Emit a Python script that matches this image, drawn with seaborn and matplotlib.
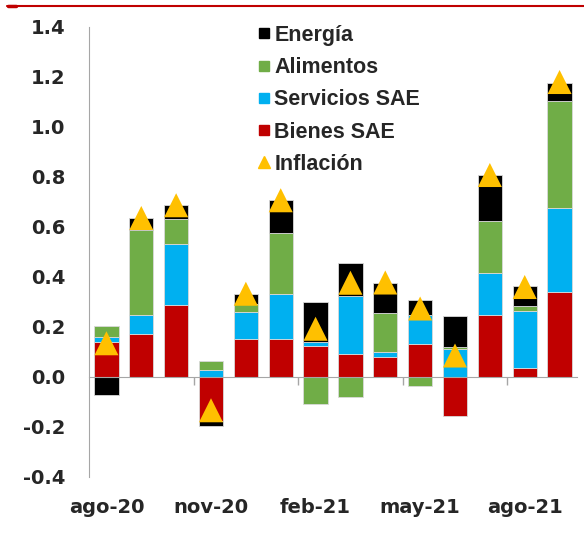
import numpy as np
import pandas as pd
import matplotlib.pyplot as plt
import seaborn as sns
from matplotlib.lines import Line2D

# Contribuciones mensuales a la inflación (puntos porcentuales)
meses = ["ago-20", "sep-20", "oct-20", "nov-20", "dic-20", "ene-21", "feb-21",
         "mar-21", "abr-21", "may-21", "jun-21", "jul-21", "ago-21", "sep-21"]
bienes = [0.14, 0.172, 0.288, -0.177, 0.151, 0.151, 0.124,
          0.093, 0.08, 0.133, -0.157, 0.25, 0.036, 0.34]
servicios = [0.02, 0.078, 0.245, 0.028, 0.111, 0.18, 0.016,
             0.231, 0.02, 0.117, 0.111, 0.166, 0.23, 0.337]
alimentos = [0.045, 0.34, 0.099, 0.036, 0.029, 0.245, -0.107,
             -0.08, 0.158, -0.036, 0.009, 0.208, 0.017, 0.426]
energia = [-0.07, 0.046, 0.055, -0.019, 0.042, 0.131, 0.16,
           0.133, 0.12, 0.06, 0.123, 0.184, 0.08, 0.074]
inflacion = [0.135, 0.636, 0.687, -0.133, 0.333, 0.707, 0.193,
             0.377, 0.378, 0.274, 0.086, 0.808, 0.36, 1.18]

series = ["Energía", "Alimentos", "Servicios SAE", "Bienes SAE"]
colores = {"Energía": "#000000", "Alimentos": "#70AD47",
           "Servicios SAE": "#00B0F0", "Bienes SAE": "#C00000"}
valores = {"Energía": energia, "Alimentos": alimentos,
           "Servicios SAE": servicios, "Bienes SAE": bienes}

sns.set_style("white")
plt.rcParams['font.family'] = ['Liberation Sans', 'DejaVu Sans']
plt.rcParams['axes.unicode_minus'] = False

fig = plt.figure(figsize=(5.84, 5.38), dpi=100)
ax = fig.add_axes([89/584, 1 - 477/538, (577 - 89)/584, 450/538])

x = np.arange(len(meses))
pos_base = np.zeros(len(meses))
neg_base = np.zeros(len(meses))
# Excel apila positivos hacia arriba y negativos hacia abajo
for nombre in ["Bienes SAE", "Servicios SAE", "Alimentos", "Energía"]:
    v = np.array(valores[nombre])
    base = np.where(v >= 0, pos_base, neg_base)
    ax.bar(x, v, width=0.7, bottom=base, color=colores[nombre],
           edgecolor="#d9d9d9", linewidth=0.6, zorder=2)
    pos_base += np.clip(v, 0, None)
    neg_base += np.clip(v, None, 0)

df = pd.DataFrame({"x": x, "inflacion": inflacion})
sns.scatterplot(data=df, x="x", y="inflacion", marker="^", s=300,
                color="#FFC000", edgecolor="none", zorder=4, ax=ax, legend=False)

ax.set_xlim(-0.5, len(meses) - 0.5)
ax.set_ylim(-0.4, 1.4)
yticks = np.round(np.arange(-0.4, 1.41, 0.2), 1) + 0.0
ax.set_yticks(yticks)
ax.set_yticklabels([f"{t:.1f}" for t in yticks], family="DejaVu Sans",
                   fontweight="bold", fontsize=14)
ax.set_xticks(x[::3])
ax.set_xticklabels(meses[::3], family="DejaVu Sans", fontweight="bold", fontsize=14)
ax.set_xlabel("")
ax.set_ylabel("")

for s in ["top", "right", "bottom"]:
    ax.spines[s].set_visible(False)
ax.spines["left"].set_color("#a6a6a6")
ax.tick_params(axis="y", direction="out", length=6, width=1, color="#a6a6a6", pad=11)
ax.tick_params(axis="x", length=0, pad=15)

# eje horizontal en cero con marcas cada trimestre
sec = ax.secondary_xaxis(0.4 / 1.8)
sec.set_xticks(np.arange(2.5, len(meses) - 1, 3))
sec.tick_params(direction="out", length=6, width=1, color="#a6a6a6", labelbottom=False)
sec.spines["bottom"].set_color("#a6a6a6")
sec.set_zorder(3)

handles = [Line2D([], [], marker="s", ls="none", color=colores[n], markersize=7.5)
           for n in series]
handles.append(Line2D([], [], marker="^", ls="none", color="#FFC000", markersize=8.5))
ax.legend(handles, series + ["Inflación"], loc="upper left",
          bbox_to_anchor=(258 / 584, 1 - 25 / 538), bbox_transform=fig.transFigure,
          frameon=False, prop={"family": "Liberation Sans", "weight": "bold", "size": 15.5},
          handlelength=0.6, handletextpad=0.15, labelspacing=0.52,
          borderpad=0, borderaxespad=0)

# línea roja superior
fig.add_artist(Line2D([0.012, 1.0], [1 - 5.5/538] * 2, color="#C00000", lw=1.5))
fig.add_artist(Line2D([0.013, 0.027], [1 - 6/538] * 2, color="#C00000", lw=2.5))

fig.savefig("out.png", dpi=100)
